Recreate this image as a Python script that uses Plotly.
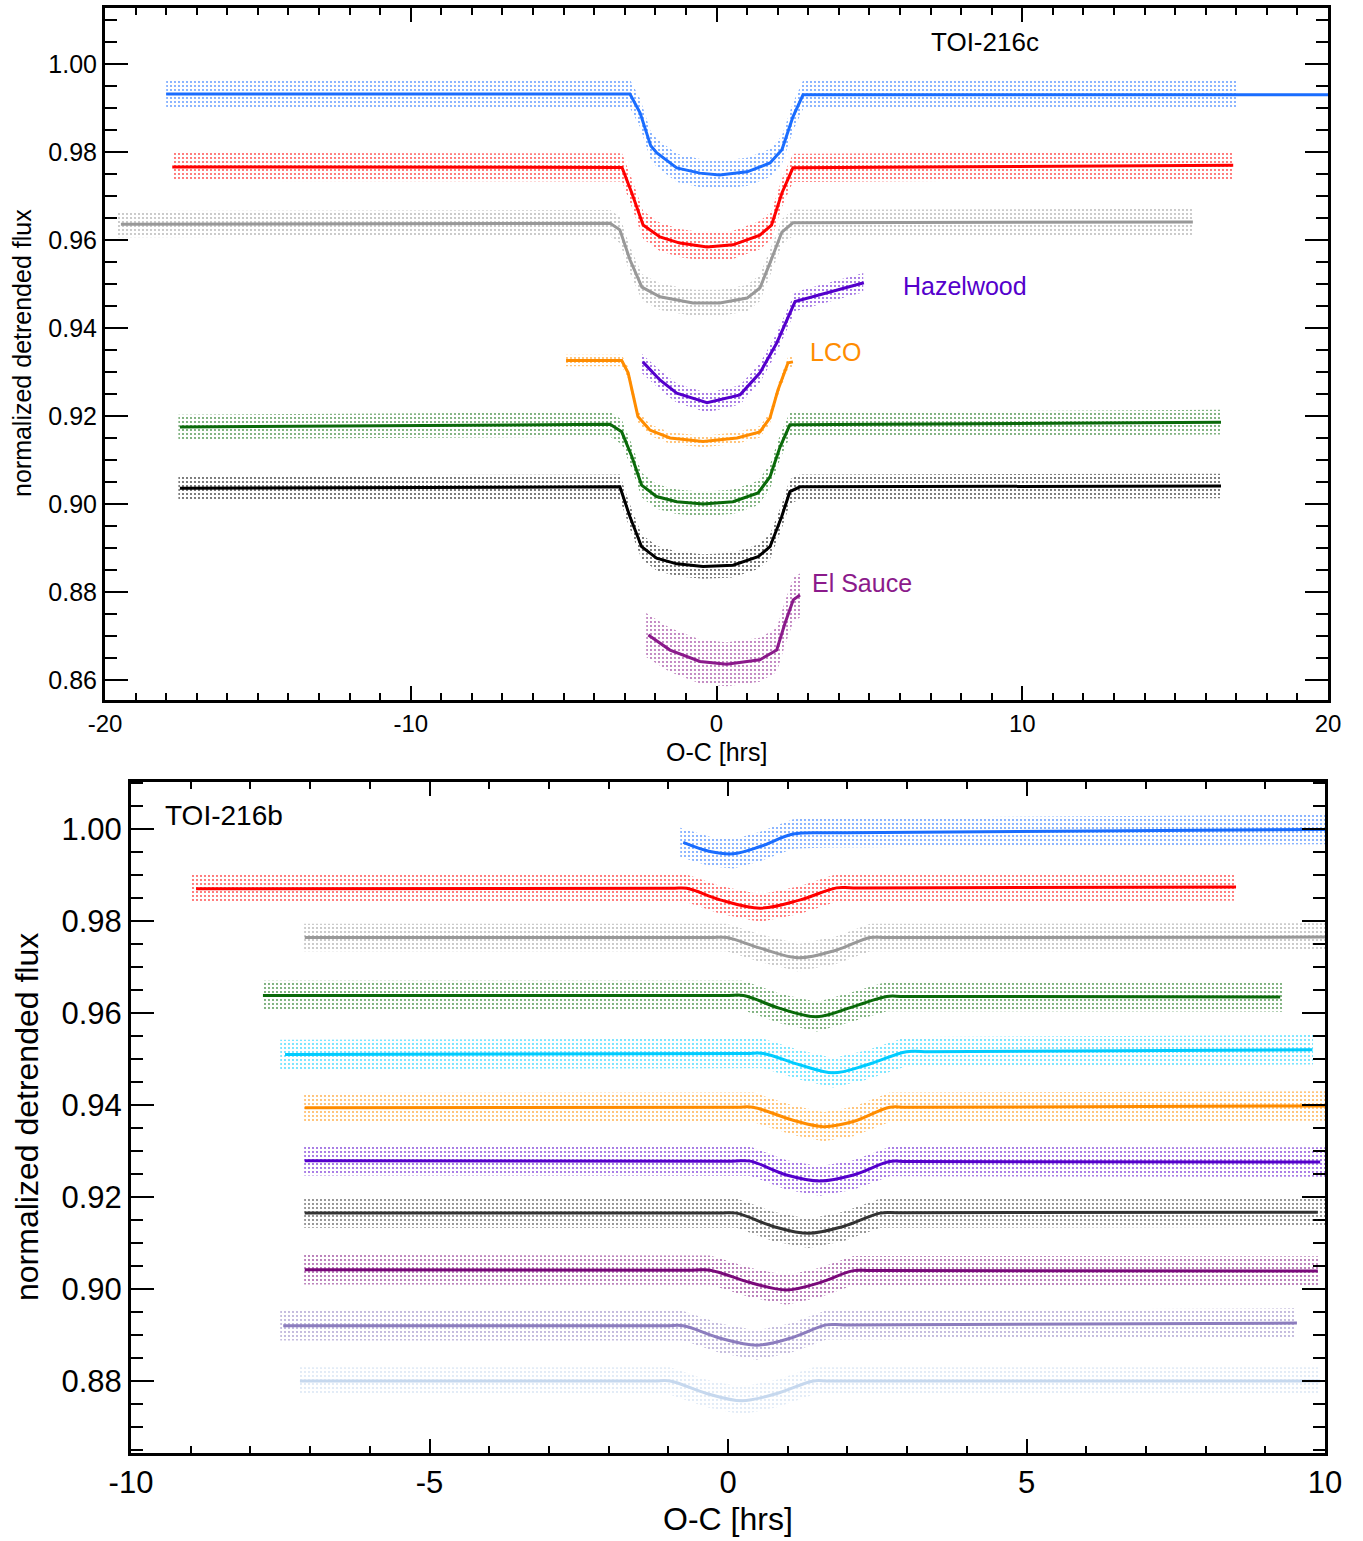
import plotly.graph_objects as go

# ---------------- TOP PANEL (TOI-216c) : model key points ----------------
c_blue_x = [-18.0, -2.83, -2.5, -2.15, -1.95, -1.3, -0.54, 0.1, 1.0, 1.75, 2.14, 2.5, 2.83, 20.0]
c_blue_y = [0.9932, 0.9932, 0.9889, 0.9814, 0.9798, 0.9764, 0.9752, 0.9748, 0.9755, 0.9775, 0.9805, 0.9880, 0.9930, 0.9930]

c_red_x = [-17.8, -3.09, -2.77, -2.4, -1.85, -1.2, -0.31, 0.54, 1.42, 1.8, 2.14, 2.5, 16.9]
c_red_y = [0.9766, 0.9765, 0.9707, 0.9634, 0.9607, 0.9593, 0.9584, 0.9589, 0.9611, 0.9634, 0.9707, 0.9764, 0.9770]

c_grey_x = [-19.48, -3.48, -3.16, -2.83, -2.44, -1.85, -0.77, 0.11, 1.0, 1.42, 1.75, 2.14, 2.5, 15.58]
c_grey_y = [0.9636, 0.9638, 0.9623, 0.9555, 0.9493, 0.9471, 0.9457, 0.9457, 0.9468, 0.9491, 0.9548, 0.9618, 0.9639, 0.9641]

c_hazel_x = [-2.41, -1.85, -1.3, -0.31, 0.77, 1.42, 1.97, 2.57, 4.82]
c_hazel_y = [0.9323, 0.9282, 0.9252, 0.9230, 0.9248, 0.9298, 0.9366, 0.9460, 0.9503]

c_lco_x = [-4.92, -3.1, -2.89, -2.57, -2.18, -1.52, -0.44, 0.67, 1.42, 1.75, 2.01, 2.34, 2.5]
c_lco_y = [0.9326, 0.9326, 0.9298, 0.9199, 0.9168, 0.9150, 0.9142, 0.9150, 0.9164, 0.9196, 0.9259, 0.9321, 0.9323]

c_green_x = [-17.55, -3.48, -3.1, -2.77, -2.45, -1.96, -1.3, -0.44, 0.54, 1.36, 1.75, 2.08, 2.4, 16.5]
c_green_y = [0.9175, 0.9181, 0.9164, 0.9108, 0.9043, 0.9017, 0.9005, 0.9000, 0.9005, 0.9025, 0.9062, 0.9130, 0.9180, 0.9186]

c_black_x = [-17.55, -3.16, -2.83, -2.45, -1.96, -1.3, -0.44, 0.54, 1.36, 1.75, 2.13, 2.4, 2.73, 16.5]
c_black_y = [0.9036, 0.9039, 0.8971, 0.8903, 0.8877, 0.8864, 0.8858, 0.8861, 0.8880, 0.8903, 0.8971, 0.9028, 0.9039, 0.9041]

c_sauce_x = [-2.23, -1.52, -0.54, 0.33, 1.42, 1.97, 2.24, 2.51, 2.73]
c_sauce_y = [0.8702, 0.8668, 0.8642, 0.8636, 0.8646, 0.8668, 0.8729, 0.8782, 0.8793]

# scatter cloud: visible x extent and typical half-spread of the points
c_scatter_lo = [-18.0, -17.8, -19.6, -2.5, -4.95, -17.6, -17.6, -2.3]
c_scatter_hi = [17.0, 16.9, 15.6, 4.8, 2.5, 16.5, 16.5, 2.75]
c_scatter_sd = [0.0032, 0.0032, 0.0030, 0.0022, 0.0013, 0.0028, 0.0028, 0.0050]

top_colors = ["#1A6DFF", "#FF0000", "#999999", "#5500CC", "#FF8C00", "#0A6A0A", "#000000", "#8B1A8B"]
top_x = [c_blue_x, c_red_x, c_grey_x, c_hazel_x, c_lco_x, c_green_x, c_black_x, c_sauce_x]
top_y = [c_blue_y, c_red_y, c_grey_y, c_hazel_y, c_lco_y, c_green_y, c_black_y, c_sauce_y]

# ---------------- BOTTOM PANEL (TOI-216b) ----------------
b_blue_x = [-0.75, -0.3, 0.09, 0.54, 1.09, 1.66, 2.0, 10.0]
b_blue_y = [0.9971, 0.9951, 0.9946, 0.9962, 0.9989, 0.9992, 0.9992, 0.9999]
b_red_x = [-8.91, -0.95, -0.69, -0.13, 0.54, 1.21, 1.82, 2.1, 8.51]
b_red_y = [0.9870, 0.9871, 0.9871, 0.9846, 0.9828, 0.9846, 0.9872, 0.9872, 0.9874]
b_grey_x = [-7.09, -0.3, -0.02, 0.54, 1.18, 1.82, 2.38, 2.65, 10.0]
b_grey_y = [0.9764, 0.9764, 0.9764, 0.9741, 0.9720, 0.9737, 0.9764, 0.9764, 0.9765]
b_green_x = [-7.79, -0.05, 0.26, 0.87, 1.49, 2.1, 2.66, 2.95, 9.25]
b_green_y = [0.9638, 0.9638, 0.9638, 0.9610, 0.9592, 0.9614, 0.9636, 0.9636, 0.9635]
b_cyan_x = [-7.42, 0.3, 0.59, 1.21, 1.76, 2.32, 2.99, 3.3, 9.79]
b_cyan_y = [0.9510, 0.9512, 0.9512, 0.9487, 0.9470, 0.9487, 0.9516, 0.9516, 0.9520]
b_orange_x = [-7.09, 0.12, 0.42, 1.09, 1.6, 2.1, 2.71, 3.0, 10.0]
b_orange_y = [0.9394, 0.9395, 0.9395, 0.9367, 0.9353, 0.9364, 0.9395, 0.9395, 0.9398]
b_indigo_x = [-7.09, 0.07, 0.37, 0.98, 1.54, 2.1, 2.71, 3.0, 9.92]
b_indigo_y = [0.9279, 0.9278, 0.9278, 0.9248, 0.9235, 0.9248, 0.9277, 0.9277, 0.9276]
b_dark_x = [-7.09, -0.15, 0.14, 0.76, 1.35, 1.93, 2.55, 2.85, 9.88]
b_dark_y = [0.9165, 0.9165, 0.9165, 0.9136, 0.9121, 0.9136, 0.9165, 0.9166, 0.9167]
b_purple_x = [-7.09, -0.6, -0.3, 0.37, 0.98, 1.54, 2.1, 2.4, 9.88]
b_purple_y = [0.9042, 0.9041, 0.9041, 0.9014, 0.8998, 0.9014, 0.9040, 0.9040, 0.9039]
b_lav_x = [-7.45, -1.05, -0.75, -0.13, 0.48, 1.04, 1.65, 1.95, 9.53]
b_lav_y = [0.8920, 0.8920, 0.8920, 0.8893, 0.8878, 0.8893, 0.8922, 0.8922, 0.8926]
b_lblue_x = [-7.17, -1.25, -0.97, -0.36, 0.23, 0.82, 1.43, 1.7, 9.92]
b_lblue_y = [0.8800, 0.8800, 0.8800, 0.8773, 0.8757, 0.8773, 0.8800, 0.8800, 0.8800]

b_scatter_lo = [-0.8, -9.0, -7.1, -7.8, -7.5, -7.1, -7.1, -7.1, -7.1, -7.5, -7.2]
b_scatter_hi = [10.0, 8.5, 10.0, 9.3, 9.8, 10.0, 10.0, 10.0, 9.9, 9.5, 9.9]
b_scatter_sd = [0.0032, 0.0030, 0.0030, 0.0032, 0.0032, 0.0032, 0.0032, 0.0032, 0.0032, 0.0032, 0.0030]

bot_colors = ["#1A6DFF", "#FF0000", "#999999", "#0A6A0A", "#00CCFF", "#FF8C00",
              "#5500CC", "#333333", "#7A0A7A", "#8C7DBE", "#C6D8EE"]
bot_x = [b_blue_x, b_red_x, b_grey_x, b_green_x, b_cyan_x, b_orange_x,
         b_indigo_x, b_dark_x, b_purple_x, b_lav_x, b_lblue_x]
bot_y = [b_blue_y, b_red_y, b_grey_y, b_green_y, b_cyan_y, b_orange_y,
         b_indigo_y, b_dark_y, b_purple_y, b_lav_y, b_lblue_y]

top_xticks = [-20, -10, 0, 10, 20]
top_xtext = ["-20", "-10", "0", "10", "20"]
bot_xticks = [-10, -5, 0, 5, 10]
bot_xtext = ["-10", "-5", "0", "5", "10"]

FONT = "Liberation Sans, Arial, Helvetica, sans-serif"
fig = go.Figure()


def add_series(xs, ys, lo, hi, sd, color, xa, ya, shape, smooth, dot_op):
    bx = list(xs)
    bx[0] = min(lo, bx[1])
    bx[-1] = max(hi, bx[-2])
    up = [v + sd for v in ys]
    dn = [v - sd for v in ys]
    fig.add_trace(go.Scatter(
        x=bx + bx[::-1], y=up + dn[::-1], xaxis=xa, yaxis=ya, mode="lines",
        line=dict(width=0, color="rgba(0,0,0,0)"),
        fill="toself", fillcolor="rgba(255,255,255,0)",
        fillpattern=dict(shape=".", size=4, solidity=0.16, fgcolor=color,
                         fgopacity=dot_op, bgcolor="rgba(255,255,255,0)"),
        hoverinfo="skip", showlegend=False))
    fig.add_trace(go.Scatter(
        x=xs, y=ys, xaxis=xa, yaxis=ya, mode="lines",
        line=dict(color=color, width=3, shape=shape, smoothing=smooth),
        showlegend=False))


for i in range(len(top_x)):
    add_series(top_x[i], top_y[i], c_scatter_lo[i], c_scatter_hi[i], c_scatter_sd[i],
               top_colors[i], "x", "y", "linear", 0, 0.75)

for i in range(len(bot_x)):
    add_series(bot_x[i], bot_y[i], b_scatter_lo[i], b_scatter_hi[i], b_scatter_sd[i],
               bot_colors[i], "x2", "y2", "spline", 1.0, 0.75)


def ax(domain, rng, mdtick, tlen, mlen, fsize, anchor):
    return dict(domain=domain, range=rng, anchor=anchor, showgrid=False, zeroline=False,
                automargin=False,
                showline=True, linecolor="black", linewidth=3, mirror="allticks",
                ticks="inside", ticklen=tlen, tickwidth=2, tickcolor="black",
                minor=dict(tickmode="linear", tick0=0, dtick=mdtick, ticks="inside",
                           ticklen=mlen, tickwidth=2, tickcolor="black", showgrid=False),
                tickfont=dict(family=FONT, size=fsize, color="black"))


W, H = 1363, 1541
xa1 = ax([105 / W, 1328 / W], [-20, 20], 1, 14, 7, 24, "y")
xa1.update(tickmode="array", tickvals=top_xticks, ticktext=top_xtext)
ya1 = ax([1 - 700 / H, 1 - 8 / H], [0.85545, 1.01273], 0.005, 23, 12, 25, "x")
ya1.update(dtick=0.02, tick0=0, tickformat=".2f")
xa2 = ax([131 / W, 1325 / W], [-10, 10], 1, 14, 7, 31, "y2")
xa2.update(tickmode="array", tickvals=bot_xticks, ticktext=bot_xtext)
ya2 = ax([1 - 1453 / H, 1 - 782 / H], [0.86435, 1.01022], 0.005, 23, 12, 31, "x2")
ya2.update(dtick=0.02, tick0=0, tickformat=".2f")


def ann(x, y, text, size, color="black", xref="paper", yref="paper", xanchor="center", angle=0):
    return dict(x=x, y=y, xref=xref, yref=yref, text=text, showarrow=False,
                xanchor=xanchor, yanchor="middle", textangle=angle,
                font=dict(family=FONT, size=size, color=color))


annotations = [
    ann(8.77, 1.0050, "TOI-216c", 26, xref="x", yref="y"),
    ann(6.03, 0.9495, "Hazelwood", 25, "#5500CC", "x", "y", "left"),
    ann(2.99, 0.93455, "LCO", 25, "#FF8C00", "x", "y", "left"),
    ann(3.05, 0.88205, "El Sauce", 25, "#8B1A8B", "x", "y", "left"),
    ann(-9.46, 1.00283, "TOI-216b", 28, xref="x2", yref="y2", xanchor="left"),
    ann(716 / W, 1 - 752 / H, "O-C [hrs]", 25),
    ann(22 / W, 1 - 353 / H, "normalized detrended flux", 25, angle=-90),
    ann(728 / W, 1 - 1519 / H, "O-C [hrs]", 32),
    ann(27 / W, 1 - 1117 / H, "normalized detrended flux", 32, angle=-90),
]

fig.update_layout(width=W, height=H, margin=dict(l=0, r=0, t=0, b=0),
                  paper_bgcolor="white", plot_bgcolor="white",
                  xaxis=xa1, yaxis=ya1, xaxis2=xa2, yaxis2=ya2,
                  annotations=annotations, showlegend=False)

fig.write_html("out.html", config={"displayModeBar": False},
               post_script="document.body.style.margin='0';")
